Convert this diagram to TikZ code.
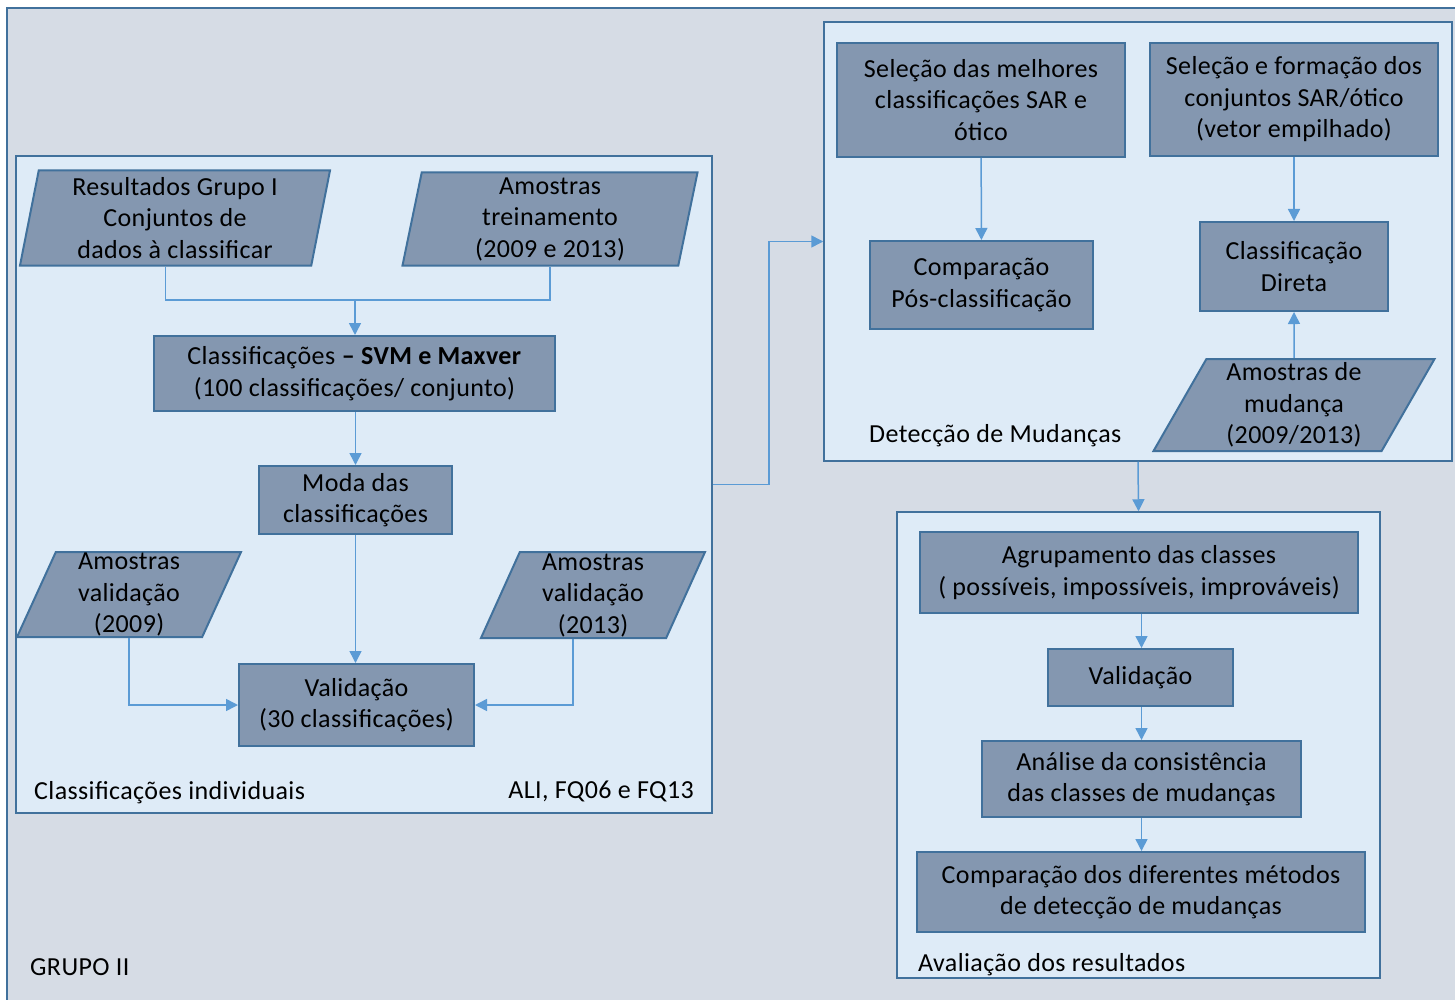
\documentclass[tikz,border=0pt]{standalone}
\usepackage{fontspec}
\setmainfont{Carlito}[LetterSpace=1.5]
\usetikzlibrary{
    shapes.geometric,
    arrows.meta,
    positioning,
    calc
}
\definecolor{outerbg}{HTML}{D6DCE5}
\definecolor{panelbg}{HTML}{DEEBF7}
\definecolor{boxfill}{HTML}{8497B0}
\definecolor{boxline}{HTML}{41719C}
\definecolor{flowblue}{HTML}{5B9BD5}

\begin{document}
\begin{tikzpicture}[
    x=1pt, y=-1pt,
    font=\fontsize{26}{31.5}\selectfont,
    panel/.style={rectangle, draw=boxline, fill=panelbg, line width=1.5pt, inner sep=0pt},
    process/.style={rectangle, draw=boxline, fill=boxfill, line width=2pt, align=center, inner sep=0pt},
    datain/.style={trapezium, trapezium stretches body, draw=boxline, fill=boxfill, line width=2pt,
                   align=center, inner sep=0pt},
    caption/.style={anchor=west, inner sep=0pt},
    line/.style={draw=flowblue, line width=1.5pt},
    arrow/.style={line, -{Triangle[length=12pt,width=12pt]}}
]
    \useasboundingbox (0,0) rectangle (1455,1000);
    \draw[fill=outerbg, draw=boxline, line width=1.5pt] (7,8) rectangle (1475,1015);

    % Panels
    \node (indiv) [panel, minimum width=696pt, minimum height=657pt] at (364,484.5) {};
    \node (detect) [panel, minimum width=628pt, minimum height=439pt] at (1138,241.5) {};
    \node (aval) [panel, minimum width=483pt, minimum height=466pt] at (1138.5,745) {};

    % Individual classifications
    \node (res) [datain, trapezium left angle=77, trapezium right angle=103,
                 minimum width=310pt, minimum height=95pt] at (175,218)
                 {Resultados Grupo I\\Conjuntos de\\dados à classificar};
    \node (amT) [datain, trapezium left angle=77, trapezium right angle=103,
                 minimum width=295pt, minimum height=93pt] at (550,219)
                 {Amostras\\treinamento\\(2009 e 2013)};
    \node (classif) [process, minimum width=401pt, minimum height=75pt] at (354.5,373.5)
                 {Classificações \textbf{– SVM e Maxver}\\(100 classificações/ conjunto)};
    \node (moda) [process, minimum width=193pt, minimum height=68pt] at (355.5,500)
                 {Moda das\\classificações};
    \node (amV1) [datain, trapezium left angle=65, trapezium right angle=115,
                  minimum width=224pt, minimum height=85pt] at (129,594.5)
                 {Amostras\\validação\\(2009)};
    \node (amV2) [datain, trapezium left angle=65, trapezium right angle=115,
                  minimum width=224pt, minimum height=86pt] at (593,595)
                 {Amostras\\validação\\(2013)};
    \node (valid) [process, minimum width=235pt, minimum height=82pt] at (356.5,705)
                 {Validação\\(30 classificações)};
    \node (capIndiv) [caption] at (34,793) {Classificações individuais};
    \node (capSensor) [caption, anchor=east] at (694,791) {ALI, FQ06 e FQ13};
    \node (capGrupo) [caption] at (30,967) {GRUPO II};

    % Change detection
    \node (sel1) [process, minimum width=288pt, minimum height=114pt] at (981,100)
                 {Seleção das melhores\\classificações SAR e\\ótico};
    \node (sel2) [process, minimum width=288pt, minimum height=113pt] at (1294,99.5)
                 {Seleção e formação dos\\conjuntos SAR/ótico\\(vetor empilhado)};
    \node (comp) [process, minimum width=223pt, minimum height=88pt] at (981.5,285)
                 {Comparação\\Pós-classificação};
    \node (classD) [process, minimum width=188pt, minimum height=89pt] at (1294,266.5)
                 {Classificação\\Direta};
    \node (amM) [datain, trapezium left angle=58, trapezium right angle=122,
                 minimum width=281pt, minimum height=92pt] at (1294,405)
                 {Amostras de\\mudança\\(2009/2013)};
    \node (capDetect) [caption] at (869,436) {Detecção de Mudanças};

    % Evaluation
    \node (agr) [process, minimum width=438pt, minimum height=81pt] at (1139,572.5)
                 {Agrupamento das classes\\( possíveis, impossíveis, improváveis)};
    \node (val2) [process, minimum width=185pt, minimum height=57pt] at (1140.5,677.5)
                 {Validação};
    \node (ana) [process, minimum width=319pt, minimum height=76pt] at (1141.5,779)
                 {Análise da consistência\\das classes de mudanças};
    \node (compM) [process, minimum width=448pt, minimum height=80pt] at (1141,892)
                 {Comparação dos diferentes métodos\\de detecção de mudanças};
    \node (capAval) [caption] at (918,965) {Avaliação dos resultados};

    % Connections
    \coordinate (join) at (355,300);
    \draw [line] (res.bottom side) |- (join);
    \draw [line] (amT.south) |- (join);
    \draw [arrow] (join) -- (classif.north -| join);
    \draw [arrow] (classif.south -| moda) -- (moda);
    \draw [arrow] (moda) -- (valid.north -| moda);
    \draw [arrow] (amV1.south) |- (valid.west);
    \draw [arrow] (amV2.bottom side) |- (valid.east);
    \draw [arrow] (indiv.east) -- ++(56,0) |- (detect.west);
    \draw [arrow] (sel1) -- (comp);
    \draw [arrow] (sel2) -- (classD);
    \draw [arrow] (amM.north) -- (classD.south);
    \draw [arrow] (detect.south) -- (aval.north);
    \draw [arrow] (agr.south -| ana) -- (val2.north -| ana);
    \draw [arrow] (val2.south -| ana) -- (ana);
    \draw [arrow] (ana) -- (compM.north -| ana);

\end{tikzpicture}
\end{document}
